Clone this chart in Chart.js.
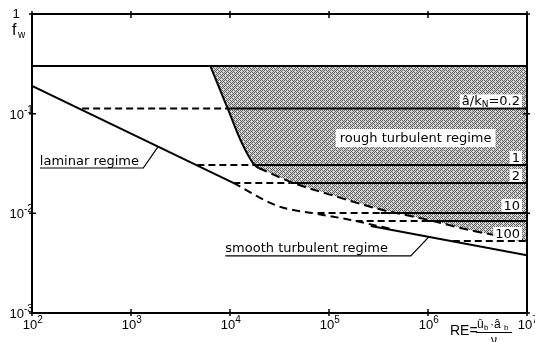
<!DOCTYPE html>
<html>
<head>
<meta charset="utf-8">
<script src="https://cdn.jsdelivr.net/npm/chart.js@4/dist/chart.umd.min.js"></script>
<style>
  html, body { margin: 0; padding: 0; background: #fff; }
  #wrap { width: 535px; height: 342px; }
</style>
</head>
<body>
<div id="wrap"><canvas id="chart" width="535" height="342"></canvas></div>
<script>
// values: RE on x, f_w on y (both log)
const topRE = [100, 1e7];
const topF = [0.3, 0.3];

const lamRE = [100, 10800];
const lamF = [0.19, 0.0202];

// left edge of the rough turbulent regime (solid part, then dashed part)
const edgeRE = [6340, 9420, 13300, 17300, 19400];
const edgeF = [0.3, 0.114, 0.0497, 0.0313, 0.0285];
const edgeDashRE = [19400, 40800, 131000, 310000, 906000, 2.9e6, 1e7];
const edgeDashF = [0.0285, 0.0207, 0.0143, 0.0111, 0.0088, 0.00665, 0.00528];

// laminar -> smooth turbulent transition (dashed)
const transRE = [10800, 30200, 76700, 165600, 420000];
const transF = [0.0202, 0.01186, 0.00986, 0.00859, 0.00698];

const smoothRE = [264000, 1e7];
const smoothF = [0.00748, 0.0038];

// horizontal lines for a/kN
const ratioLabels = ['0.2', '1', '2', '10', '', '100'];
const ratioF = [0.113, 0.0306, 0.0202, 0.0101, 0.0084, 0.00528];
const ratioDashFrom = [321, 4680, 10800, 76700, 186000, 1.78e6];
const ratioSolidFrom = [9420, 18500, 40800, 333000, 951000, 1e7];

const xTickValues = [1e2, 1e3, 1e4, 1e5, 1e6, 1e7];
const xTickExp = ['2', '3', '4', '5', '6', '7'];
const yTickValues = [1, 0.1, 0.01, 0.001];
const yTickExp = ['', '-1', '-2', '-3'];

// label anchors in data units
const roughAt = [7.5e5, 0.057];
const lamText = [120, 1330, 0.0285];   // underline from, to, at f
const lamLeader = [1880, 0.0466];
const smoothText = [8970, 670000, 0.00374];
const smoothLeader = [1.02e6, 0.0058];

const ctx = document.querySelector('#chart').getContext('2d');

function pts(xs, ys) {
  return xs.map((x, i) => ({ x: x, y: ys[i] }));
}

function line(xs, ys, extra) {
  return Object.assign({
    data: pts(xs, ys),
    borderColor: '#000',
    borderWidth: 2,
    pointRadius: 0,
    showLine: true,
    fill: false,
    tension: 0
  }, extra || {});
}

// grey halftone for the shaded regime (fixed dot layout, '#' = dark dot)
const hatchRows = [
  '#.#.#.',
  '.#.#..',
  '#.#.#.',
  '.#...#',
  '#.#.#.',
  '...#.#'
];
function makeHatch() {
  const c = document.createElement('canvas');
  c.width = 6; c.height = 6;
  const g = c.getContext('2d');
  g.fillStyle = '#d8d8d8';
  g.fillRect(0, 0, 6, 6);
  g.fillStyle = '#5e5e5e';
  hatchRows.forEach(function (row, yy) {
    for (var xx = 0; xx < row.length; xx++) {
      if (row[xx] === '#') g.fillRect(xx, yy, 1, 1);
    }
  });
  return ctx.createPattern(c, 'repeat');
}

var datasets = [];

// shaded area: along the edge, up the right side, back along f = 0.3
var shadeRE = edgeRE.concat(edgeDashRE.slice(1), [1e7, edgeRE[0]]);
var shadeF = edgeF.concat(edgeDashF.slice(1), [topF[0], topF[0]]);
datasets.push(line(shadeRE, shadeF, {
  borderWidth: 0, borderColor: 'rgba(0,0,0,0)', fill: 'shape',
  backgroundColor: makeHatch(), order: 10
}));

datasets.push(line(topRE, topF));
datasets.push(line(lamRE, lamF));
datasets.push(line(edgeRE, edgeF, { cubicInterpolationMode: 'monotone' }));
datasets.push(line(edgeDashRE, edgeDashF, { borderDash: [9, 5], cubicInterpolationMode: 'monotone' }));
datasets.push(line(transRE, transF, { borderDash: [8, 5], cubicInterpolationMode: 'monotone' }));
datasets.push(line(smoothRE, smoothF));

for (var i = 0; i < ratioF.length; i++) {
  datasets.push(line([ratioDashFrom[i], ratioSolidFrom[i]], [ratioF[i], ratioF[i]], { borderDash: [7, 4] }));
  if (ratioSolidFrom[i] < 1e7) {
    datasets.push(line([ratioSolidFrom[i], 1e7], [ratioF[i], ratioF[i]]));
  }
}

function sup(c, base, exp, x, y, align) {
  // "10" with a raised exponent; x is the centre of "10" or its right edge
  c.font = '13px "Liberation Sans", Arial, sans-serif';
  c.textBaseline = 'alphabetic';
  var w = c.measureText(base).width;
  var left = align === 'right' ? x - w : x - w / 2;
  c.textAlign = 'left';
  c.fillText(base, left, y);
  c.font = '10px "Liberation Sans", Arial, sans-serif';
  c.fillText(exp, left + w, y - 6);
}

function whiteBox(c, x, y, w, h) {
  c.fillStyle = '#fff';
  c.fillRect(x, y, w, h);
  c.fillStyle = '#000';
}

const decor = {
  id: 'decor',
  afterDatasetsDraw(chart) {
    const c = chart.ctx;
    const xs = chart.scales.x, ys = chart.scales.y;
    const a = chart.chartArea;
    c.save();
    c.strokeStyle = '#000';
    c.fillStyle = '#000';

    // frame
    c.lineWidth = 2;
    c.strokeRect(a.left, a.top, a.right - a.left, a.bottom - a.top);

    // decade ticks on all four sides
    c.lineWidth = 1.5;
    xTickValues.forEach(function (v) {
      var px = xs.getPixelForValue(v);
      c.beginPath();
      c.moveTo(px, a.bottom - 4); c.lineTo(px, a.bottom + 3);
      c.moveTo(px, a.top - 3); c.lineTo(px, a.top + 4);
      c.stroke();
    });
    yTickValues.forEach(function (v) {
      var py = ys.getPixelForValue(v);
      c.beginPath();
      c.moveTo(a.left - 3, py); c.lineTo(a.left + 4, py);
      c.moveTo(a.right - 4, py); c.lineTo(a.right + 3, py);
      c.stroke();
    });

    // tick labels
    xTickValues.forEach(function (v, k) {
      sup(c, '10', xTickExp[k], xs.getPixelForValue(v) - 2, a.bottom + 16);
    });
    yTickValues.forEach(function (v, k) {
      var py = ys.getPixelForValue(v);
      if (yTickExp[k] === '') {
        c.font = '13px "Liberation Sans", Arial, sans-serif';
        c.textAlign = 'center';
        c.fillText('1', 16, py + 4);
      } else {
        sup(c, '10', yTickExp[k], 24, py + 5, 'right');
      }
    });

    // y title f_w
    c.font = '16px "Liberation Sans", Arial, sans-serif';
    c.textAlign = 'left';
    c.fillText('f', 12, 35);
    c.font = '10px "Liberation Sans", Arial, sans-serif';
    c.fillText('w', 18, 38);

    // a/kN labels at the right edge
    var rx = a.right - 7;
    ratioLabels.forEach(function (t, k) {
      if (t === '') return;
      var py = ys.getPixelForValue(ratioF[k]);
      c.font = '13px "DejaVu Sans", sans-serif';
      if (k === 0) {
        var p1 = '\u00e2/k', p2 = 'N', p3 = '=' + t;
        var w1 = c.measureText(p1).width, w3 = c.measureText(p3).width;
        c.font = '9px "DejaVu Sans", sans-serif';
        var w2 = c.measureText(p2).width;
        var x0 = rx - (w1 + w2 + w3);
        whiteBox(c, x0 - 2, py - 14, w1 + w2 + w3 + 4, 13);
        c.textAlign = 'left';
        c.font = '13px "DejaVu Sans", sans-serif';
        c.fillText(p1, x0, py - 3);
        c.font = '9px "DejaVu Sans", sans-serif';
        c.fillText(p2, x0 + w1, py - 1);
        c.font = '13px "DejaVu Sans", sans-serif';
        c.fillText(p3, x0 + w1 + w2, py - 3);
      } else {
        var w = c.measureText(t).width;
        whiteBox(c, rx - w - 2, py - 14, w + 4, 13);
        c.textAlign = 'right';
        c.fillText(t, rx, py - 3);
      }
    });

    // rough turbulent regime
    c.font = '13px "DejaVu Sans", sans-serif';
    var rt = 'rough turbulent regime';
    var rw = c.measureText(rt).width;
    var cx = xs.getPixelForValue(roughAt[0]), cy = ys.getPixelForValue(roughAt[1]);
    whiteBox(c, cx - rw / 2 - 4, cy - 9, rw + 8, 18);
    c.textAlign = 'center';
    c.fillText(rt, cx, cy + 4);

    // laminar regime with underline and leader
    c.lineWidth = 1.2;
    var lx0 = xs.getPixelForValue(lamText[0]), lx1 = xs.getPixelForValue(lamText[1]);
    var ly = ys.getPixelForValue(lamText[2]);
    c.textAlign = 'left';
    c.fillText('laminar regime', lx0, ly - 3);
    c.beginPath();
    c.moveTo(lx0, ly); c.lineTo(lx1, ly);
    c.lineTo(xs.getPixelForValue(lamLeader[0]), ys.getPixelForValue(lamLeader[1]));
    c.stroke();

    // smooth turbulent regime with underline and leader
    var sx0 = xs.getPixelForValue(smoothText[0]), sx1 = xs.getPixelForValue(smoothText[1]);
    var sy = ys.getPixelForValue(smoothText[2]);
    c.fillText('smooth turbulent regime', sx0, sy - 4);
    c.beginPath();
    c.moveTo(sx0, sy); c.lineTo(sx1, sy);
    c.lineTo(xs.getPixelForValue(smoothLeader[0]), ys.getPixelForValue(smoothLeader[1]));
    c.stroke();

    // x title RE = (u_b * a_b) / nu
    c.font = '14px "Liberation Sans", Arial, sans-serif';
    c.textAlign = 'left';
    c.fillText('RE=', 450, 335);
    c.font = '12px "Liberation Sans", Arial, sans-serif';
    c.fillText('\u00fb', 477, 328);
    c.font = '8px "Liberation Sans", Arial, sans-serif';
    c.fillText('b', 484, 330);
    c.font = '12px "Liberation Sans", Arial, sans-serif';
    c.fillText('\u00b7\u00e2', 490, 328);
    c.font = '8px "Liberation Sans", Arial, sans-serif';
    c.fillText('b', 504, 330);
    c.lineWidth = 1;
    c.beginPath();
    c.moveTo(476, 332.5); c.lineTo(512, 332.5);
    c.stroke();
    c.font = '12px "Liberation Sans", Arial, sans-serif';
    c.fillText('\u03bd', 491, 344);

    c.restore();
  }
};

var chart = new Chart(ctx, {
  type: 'scatter',
  data: { datasets: datasets },
  options: {
    responsive: false,
    animation: false,
    devicePixelRatio: 1,
    layout: { padding: { left: 32, right: 8, top: 14, bottom: 29 } },
    scales: {
      x: { type: 'logarithmic', min: 100, max: 1e7, display: false },
      y: { type: 'logarithmic', min: 0.001, max: 1, display: false }
    },
    plugins: {
      legend: { display: false },
      tooltip: { enabled: false }
    }
  },
  plugins: [decor]
});
</script>
</body>
</html>
